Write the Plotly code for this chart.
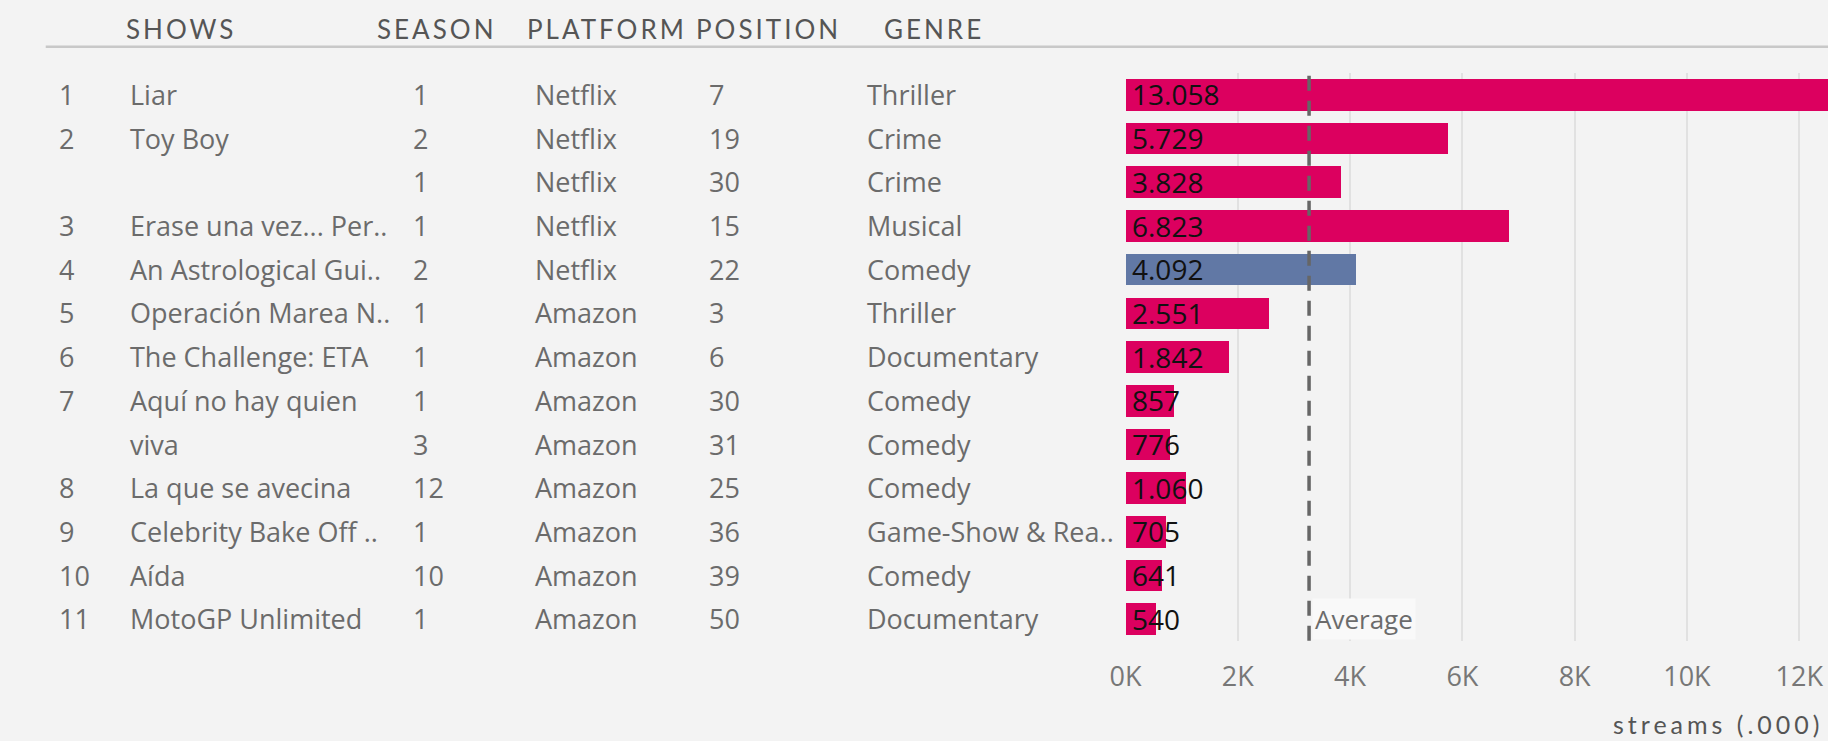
import plotly.graph_objects as go

# ---------------- data ----------------
ranks = ["1", "2", "", "3", "4", "5", "6", "7", "", "8", "9", "10", "11"]
shows = ["Liar", "Toy Boy", "", "Erase una vez... Per..", "An Astrological Gui..",
         "Operación Marea N..", "The Challenge: ETA", "Aquí no hay quien", "viva",
         "La que se avecina", "Celebrity Bake Off ..", "Aída", "MotoGP Unlimited"]
seasons = ["1", "2", "1", "1", "2", "1", "1", "1", "3", "12", "1", "10", "1"]
platforms = ["Netflix", "Netflix", "Netflix", "Netflix", "Netflix", "Amazon", "Amazon",
             "Amazon", "Amazon", "Amazon", "Amazon", "Amazon", "Amazon"]
positions = ["7", "19", "30", "15", "22", "3", "6", "30", "31", "25", "36", "39", "50"]
genres = ["Thriller", "Crime", "Crime", "Musical", "Comedy", "Thriller", "Documentary",
          "Comedy", "Comedy", "Comedy", "Game-Show & Rea..", "Comedy", "Documentary"]
streams = [13058, 5729, 3828, 6823, 4092, 2551, 1842, 857, 776, 1060, 705, 641, 540]
highlighted = [False, False, False, False, True, False, False, False, False, False, False, False, False]
headers = ["SHOWS", "SEASON", "PLATFORM", "POSITION", "GENRE"]
tick_vals = [0, 2000, 4000, 6000, 8000, 10000, 12000]
tick_text = ["0K", "2K", "4K", "6K", "8K", "10K", "12K"]
axis_title = "streams (.000)"
avg_label = "Average"

# ---------------- style ----------------
W, H = 1828, 741
BG = "#f3f3f3"
PINK = "#dc005f"
BLUE = "#6178a5"
TXT = "#6b6b6b"
HDR = "#555555"
BODY_FONT = "Open Sans"
HDR_FONT = "Lato"
X0 = 1119.3          # pixel where 0 sits
PX_PER_K = 56.64


def px(x):
    return x / W


def py(y):
    return 1 - y / H


n = len(streams)
rows = list(range(n))
colors = [BLUE if h else PINK for h in highlighted]
avg = sum(streams) / len(streams)

fig = go.Figure()
fig.add_trace(go.Bar(
    x=streams, y=rows, orientation="h",
    marker=dict(color=colors, line=dict(width=0)),
    width=0.725, hoverinfo="skip", showlegend=False,
))

annotations = []
# bar value labels
for i, v in enumerate(streams):
    annotations.append(dict(
        x=0, y=i, xref="x", yref="y", xanchor="left", yanchor="middle",
        xshift=4, showarrow=False, text=f"{v:,}".replace(",", "."),
        font=dict(family=BODY_FONT, size=28, color="#111111"),
    ))

# table columns
col_specs = [(ranks, 41), (shows, 113), (seasons, 398), (platforms, 522),
             (positions, 697), (genres, 856)]
for values, xpos in col_specs:
    for i, t in enumerate(values):
        if not t:
            continue
        annotations.append(dict(
            x=px(xpos), y=i, xref="paper", yref="y", xanchor="left", yanchor="middle",
            showarrow=False, text=t, font=dict(family=BODY_FONT, size=27, color=TXT),
        ))

# headers
hdr_x = [109, 362, 513, 684, 874]
for t, xpos in zip(headers, hdr_x):
    annotations.append(dict(
        x=px(xpos), y=py(29.5), xref="paper", yref="paper", xanchor="left", yanchor="middle",
        showarrow=False, text=f'<span style="letter-spacing:3px">{t}</span>',
        font=dict(family=HDR_FONT, size=26, color=HDR),
    ))

# average label
annotations.append(dict(
    x=avg, y=n - 1, xref="x", yref="y", xanchor="left", yanchor="middle",
    xshift=3, showarrow=False, text=avg_label, bgcolor="#f9f9f9", borderpad=2,
    font=dict(family=BODY_FONT, size=26, color=TXT),
))

# axis title
annotations.append(dict(
    x=px(1826), y=py(724), xref="paper", yref="paper", xanchor="right", yanchor="middle",
    showarrow=False, text=f'<span style="letter-spacing:4px">{axis_title}</span>',
    font=dict(family=HDR_FONT, size=25, color=HDR),
))

shapes = [
    # header separator
    dict(type="line", xref="paper", yref="paper", x0=px(30), x1=1, y0=py(46.7), y1=py(46.7),
         line=dict(color="#c8c8c8", width=2.5)),
    # average reference line
    dict(type="line", xref="x", yref="y domain", x0=avg, x1=avg, y0=0, y1=1,
         line=dict(color="#666666", width=3.5, dash="15px,10px")),
]

fig.update_layout(
    width=W, height=H,
    paper_bgcolor=BG, plot_bgcolor=BG,
    margin=dict(l=0, r=0, t=0, b=0),
    bargap=0,
    xaxis=dict(
        domain=[px(X0), 1], range=[0, (W - X0) / PX_PER_K * 1000],
        tickvals=tick_vals, ticktext=tick_text, showgrid=True, gridcolor="#e1e1e1",
        gridwidth=1.5, zeroline=False, showline=False, ticks="",
        tickfont=dict(family=BODY_FONT, size=27, color="#777777"), ticklabelstandoff=17,
        fixedrange=True,
    ),
    yaxis=dict(
        domain=[py(640.65), py(72.55)], range=[n - 0.5, -0.5],
        showgrid=False, zeroline=False, showline=False, showticklabels=False, ticks="",
        fixedrange=True,
    ),
    annotations=annotations,
    shapes=shapes,
    showlegend=False,
)

fig.write_html(
    "out.html",
    config={"displayModeBar": False},
    post_script="document.body.style.margin='0';document.body.style.overflow='hidden';",
)
